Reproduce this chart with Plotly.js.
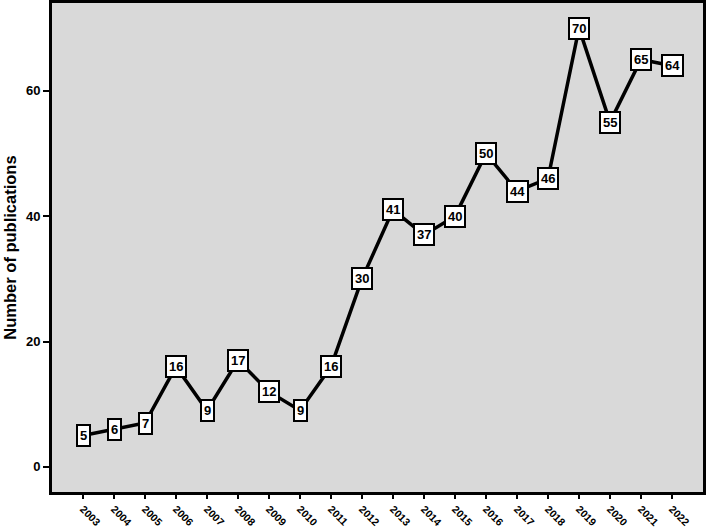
<!DOCTYPE html>
<html>
<head>
<meta charset="utf-8">
<script src="https://cdn.plot.ly/plotly-3.0.1.min.js"></script>
<style>
  html, body { margin: 0; padding: 0; background: #fff; }
  #plot { width: 708px; height: 528px; }
</style>
</head>
<body>
<div id="plot"></div>
<script>
var years = [2003, 2004, 2005, 2006, 2007, 2008, 2009, 2010, 2011, 2012,
             2013, 2014, 2015, 2016, 2017, 2018, 2019, 2020, 2021, 2022];
var pubs = [5, 6, 7, 16, 9, 17, 12, 9, 16, 30,
            41, 37, 40, 50, 44, 46, 70, 55, 65, 64];

var fnt = 'Liberation Sans, Arial, sans-serif';

var line = {
  x: years,
  y: pubs,
  type: 'scatter',
  mode: 'lines',
  line: {color: '#000', width: 3.5},
  hoverinfo: 'skip'
};

// value labels in white boxes
var boxes = years.map(function(yr, i) {
  return {
    x: yr, y: pubs[i],
    text: '<b>' + pubs[i] + '</b>',
    showarrow: false,
    font: {family: fnt, size: 13, color: '#000'},
    bgcolor: '#fff',
    bordercolor: '#000',
    borderwidth: 2,
    borderpad: 2
  };
});

var layout = {
  width: 708,
  height: 528,
  paper_bgcolor: '#fff',
  plot_bgcolor: '#d9d9d9',
  showlegend: false,
  margin: {l: 52, r: 5, t: 3, b: 36},
  font: {family: fnt, color: '#000'},
  xaxis: {
    range: [2002, 2023],
    tickvals: years,
    ticktext: years.map(String),
    tickangle: 45,
    ticks: 'outside',
    ticklen: 4,
    tickwidth: 2,
    tickcolor: '#000',
    tickfont: {family: fnt, size: 10.5, color: '#000', weight: 'bold'},
    showgrid: false,
    zeroline: false,
    showline: true,
    linecolor: '#000',
    linewidth: 3,
    mirror: true,
    automargin: false
  },
  yaxis: {
    range: [-4, 74],
    tickvals: [0, 20, 40, 60],
    ticks: 'outside',
    ticklen: 6,
    tickwidth: 2,
    tickcolor: '#000',
    tickfont: {family: fnt, size: 13, color: '#000', weight: 'bold'},
    showgrid: false,
    zeroline: false,
    showline: true,
    linecolor: '#000',
    linewidth: 3,
    mirror: true,
    automargin: false,
    title: {text: '<b>Number of publications</b>', font: {family: fnt, size: 16.5, color: '#000'}, standoff: 6}
  },
  annotations: boxes
};

Plotly.newPlot('plot', [line], layout, {displayModeBar: false, staticPlot: true});
</script>
</body>
</html>
